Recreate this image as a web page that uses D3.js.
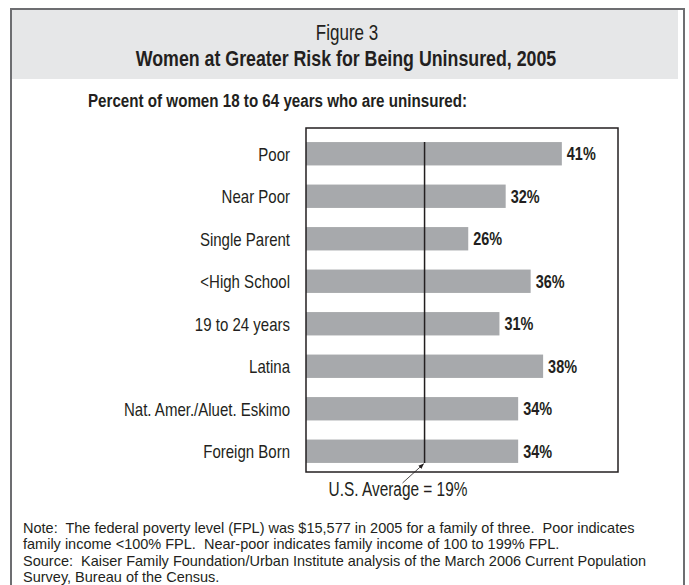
<!DOCTYPE html>
<html lang="en">
<head>
    <meta charset="UTF-8">
    <title>Women at Greater Risk for Being Uninsured, 2005</title>
    <style type="text/css">
        html, body { padding:0; margin:0; background:#fff; }
        svg { display:block; }
        .narrow { font-family: 'Liberation Sans', Arial, sans-serif; fill:#231f20; }
    </style>
</head>
<body>
<script src="https://d3js.org/d3.v7.min.js"></script>
<script>
    // data
    var categories = ['Poor', 'Near Poor', 'Single Parent', '<High School',
                      '19 to 24 years', 'Latina', 'Nat. Amer./Aluet. Eskimo', 'Foreign Born'];
    var values = [41, 32, 26, 36, 31, 38, 34, 34];
    var usAverage = 19;

    var figureLabel = 'Figure 3',
        title = 'Women at Greater Risk for Being Uninsured, 2005',
        subtitle = 'Percent of women 18 to 64 years who are uninsured:';

    var noteLines = [
        'Note:  The federal poverty level (FPL) was $15,577 in 2005 for a family of three.  Poor indicates',
        'family income <100% FPL.  Near-poor indicates family income of 100 to 199% FPL.',
        'Source:  Kaiser Family Foundation/Urban Institute analysis of the March 2006 Current Population',
        'Survey, Bureau of the Census.'
    ];

    var width = 689,
        height = 585;

    var plot = {left: 306, right: 618, top: 128, bottom: 472};

    // no condensed face installed, so squeeze the regular one
    var squeeze = 0.79;
    function condense(sel) {
        sel.each(function() {
            var w = this.getComputedTextLength();
            d3.select(this)
              .attr('textLength', w * squeeze)
              .attr('lengthAdjust', 'spacingAndGlyphs');
        });
    }

    var svg = d3.select('body').append('svg')
                .attr('width', width)
                .attr('height', height);

    // header band + frame
    svg.append('rect')
       .attr('x', 12).attr('y', 10)
       .attr('width', 666).attr('height', 69)
       .attr('fill', '#e6e7e8');

    svg.append('path')
       .attr('d', 'M11,' + height + 'V9H684V' + height)
       .attr('fill', 'none')
       .attr('stroke', '#6d6e71')
       .attr('stroke-width', 2);

    svg.append('text')
       .attr('class', 'narrow')
       .attr('x', 347).attr('y', 40)
       .attr('text-anchor', 'middle')
       .attr('font-size', 21.5)
       .text(figureLabel)
       .call(condense);

    svg.append('text')
       .attr('class', 'narrow')
       .attr('x', 346).attr('y', 66)
       .attr('text-anchor', 'middle')
       .attr('font-size', 22.5)
       .attr('font-weight', 'bold')
       .text(title)
       .call(condense);

    svg.append('text')
       .attr('class', 'narrow')
       .attr('x', 88).attr('y', 107)
       .attr('font-size', 19.2)
       .attr('font-weight', 'bold')
       .text(subtitle)
       .call(condense);

    // scales
    var x = d3.scaleLinear().domain([0, 50])
              .range([plot.left, plot.right]);

    var y = d3.scaleBand().domain(categories)
              .range([plot.top + 4.5, plot.bottom + 0.5])
              .paddingInner(0.45)
              .paddingOuter(0.225);

    var rows = categories.map(function(c, i) { return {cat: c, val: values[i]}; });

    svg.selectAll('rect.bar')
       .data(rows)
       .enter()
       .append('rect')
       .attr('class', 'bar')
       .attr('x', x(0))
       .attr('y', function(d) { return y(d.cat); })
       .attr('width', function(d) { return x(d.val) - x(0); })
       .attr('height', y.bandwidth())
       .attr('fill', '#a7a9ac');

    // plot box
    svg.append('rect')
       .attr('x', plot.left).attr('y', plot.top)
       .attr('width', plot.right - plot.left)
       .attr('height', plot.bottom - plot.top)
       .attr('fill', 'none')
       .attr('stroke', '#231f20')
       .attr('stroke-width', 1.5);

    // category labels
    var axisY = d3.axisLeft(y).tickSize(0).tickPadding(16);
    var gy = svg.append('g')
                .attr('transform', 'translate(' + plot.left + ',0)')
                .call(axisY);
    gy.select('.domain').remove();
    gy.attr('font-family', null).attr('font-size', null);
    gy.selectAll('text')
      .attr('class', 'narrow')
      .attr('font-size', 19)
      .attr('dy', '0.36em')
      .call(condense);

    svg.selectAll('text.val')
       .data(rows)
       .enter()
       .append('text')
       .attr('class', 'narrow val')
       .attr('x', function(d) { return x(d.val) + 5; })
       .attr('y', function(d) { return y(d.cat) + y.bandwidth() / 2; })
       .attr('dy', '0.36em')
       .attr('font-size', 18.3)
       .attr('font-weight', 'bold')
       .text(function(d) { return d.val + '%'; })
       .call(condense);

    // U.S. average marker
    var ax = x(usAverage),
        y0 = y(categories[0]),
        y1 = y(categories[categories.length - 1]) + y.bandwidth();

    svg.append('line')
       .attr('x1', ax).attr('x2', ax)
       .attr('y1', y0).attr('y2', y1)
       .attr('stroke', '#231f20')
       .attr('stroke-width', 1.5);

    svg.append('defs').append('marker')
       .attr('id', 'head')
       .attr('viewBox', '0 0 10 10')
       .attr('refX', 9).attr('refY', 5)
       .attr('markerWidth', 7).attr('markerHeight', 7)
       .attr('orient', 'auto')
       .append('path')
       .attr('d', 'M0,1L10,5L0,9Z')
       .attr('fill', '#231f20');

    svg.append('line')
       .attr('x1', ax - 22).attr('y1', y1 + 20)
       .attr('x2', ax - 1).attr('y2', y1 + 1)
       .attr('stroke', '#231f20')
       .attr('stroke-width', 0.8)
       .attr('marker-end', 'url(#head)');

    svg.append('text')
       .attr('class', 'narrow')
       .attr('x', ax - 96).attr('y', 496)
       .attr('font-size', 19.5)
       .text('U.S. Average = ' + usAverage + '%')
       .call(condense);

    // notes
    svg.selectAll('text.note')
       .data(noteLines)
       .enter()
       .append('text')
       .attr('class', 'note')
       .attr('x', 23)
       .attr('y', function(d, i) { return 533 + i * 16.4; })
       .attr('font-family', "'Liberation Sans', Arial, sans-serif")
       .attr('font-size', 14.5)
       .attr('fill', '#231f20')
       .style('white-space', 'pre')
       .text(function(d) { return d; });
</script>
</body>
</html>
